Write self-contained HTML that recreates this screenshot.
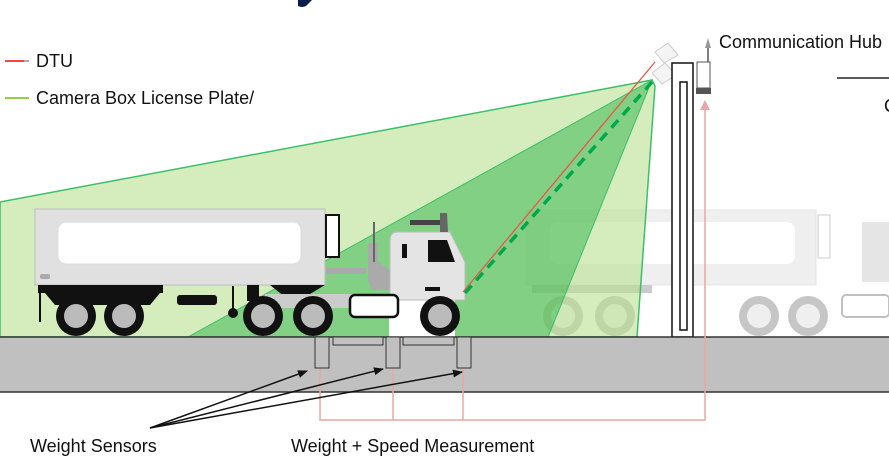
<!DOCTYPE html>
<html><head><style>
body{margin:0;background:#fff;}
svg{display:block;}
text{font-family:"Liberation Sans",sans-serif;fill:#111;}
</style></head><body>
<svg width="889" height="472" viewBox="0 0 889 472" xmlns="http://www.w3.org/2000/svg">
<path d="M298 0 L312 0 L306 6 Q302 8 298 6 Z" fill="#0b1d4a"/>
<!-- legend -->
<line x1="5" y1="61" x2="24" y2="61" stroke="#ff4040" stroke-width="2"/>
<line x1="24" y1="61" x2="29" y2="61" stroke="#aab" stroke-width="2"/>
<text x="36" y="67" font-size="18">DTU</text>
<line x1="5" y1="98" x2="29" y2="98" stroke="#8fd14f" stroke-width="2"/>
<text x="36" y="104" font-size="18">Camera Box License Plate/</text>
<line x1="837" y1="78" x2="889" y2="78" stroke="#222" stroke-width="1.5"/>
<text x="884" y="112" font-size="18">C</text>

<!-- faded right truck -->
<g opacity="0.3">
<rect x="526" y="210" width="290" height="75" fill="#ccc" stroke="#aaa"/>
<rect x="550" y="222" width="245" height="42" rx="8" fill="#fff"/>
<rect x="818" y="215" width="12" height="43" fill="#fff" stroke="#555"/>
<rect x="532" y="285" width="120" height="8" fill="#555"/>
<circle cx="563" cy="316" r="20" fill="#444"/><circle cx="563" cy="316" r="12" fill="#ccc"/>
<circle cx="615" cy="316" r="20" fill="#444"/><circle cx="615" cy="316" r="12" fill="#ccc"/>
<circle cx="759" cy="316" r="20" fill="#444"/><circle cx="759" cy="316" r="12" fill="#ccc"/>
<circle cx="808" cy="316" r="20" fill="#444"/><circle cx="808" cy="316" r="12" fill="#ccc"/>
<rect x="842" y="295" width="47" height="22" rx="4" fill="none" stroke="#333" stroke-width="2"/>
<rect x="862" y="222" width="27" height="60" fill="#aaa"/>
</g>

<!-- camera cones -->
<polygon points="652,80 0,202 0,337 637,337 655,86" fill="#b9e08f" fill-opacity="0.6" stroke="#3cbf6a" stroke-width="1.5" stroke-linejoin="round"/>
<polygon points="652,80 188,337 548,337" fill="#2fb34a" fill-opacity="0.5" stroke="#3cbf6a" stroke-width="1"/>

<!-- truck -->
<rect x="35" y="209" width="290" height="76" fill="#e0e0e0" stroke="#bbb"/>
<rect x="58" y="222" width="243" height="42" rx="8" fill="#fff" stroke="#ddd"/>
<rect x="40" y="274" width="10" height="5" rx="2" fill="#aaa"/>
<rect x="326" y="215" width="13" height="42" fill="#fff" stroke="#111" stroke-width="2"/>
<rect x="38" y="285" width="125" height="8" fill="#111"/>
<path d="M45 293 L160 293 L150 305 L55 305 Z" fill="#111"/>
<line x1="40" y1="285" x2="40" y2="322" stroke="#111" stroke-width="2"/>
<rect x="177" y="295" width="40" height="10" rx="3" fill="#111"/>
<line x1="233" y1="286" x2="233" y2="312" stroke="#111" stroke-width="2"/><circle cx="233" cy="313" r="5" fill="#111"/>
<rect x="247" y="285" width="12" height="16" fill="#111"/>
<path d="M270 285 L325 285 L305 297 L285 297 Z" fill="#111"/>
<rect x="265" y="294" width="125" height="14" fill="#ccc"/>
<rect x="326" y="268" width="40" height="6" fill="#aaa"/>
<path d="M368 243 L378 243 L378 262 L390 270 L390 290 L372 290 L368 280 Z" fill="#aaa"/>
<line x1="374" y1="222" x2="374" y2="262" stroke="#666" stroke-width="2"/>
<rect x="389" y="300" width="66" height="37" fill="#fff"/>
<path d="M390 240 Q390 232 398 232 L450 232 L465 262 L465 300 L390 300 Z" fill="#e4e4e4" stroke="#bbb"/>
<rect x="402" y="244" width="5" height="14" fill="#111"/>
<path d="M428 240 L447 240 L455 262 L428 262 Z" fill="#111"/>
<rect x="425" y="287" width="15" height="4" fill="#111"/>
<rect x="350" y="295" width="48" height="22" rx="5" fill="#fff" stroke="#111" stroke-width="2.5"/>
<path d="M410 225 L440 225 L442 220 L410 220 Z" fill="#444"/>
<path d="M440 213 L447 213 L448 232 L440 232 Z" fill="#666"/>
<circle cx="76" cy="316" r="20" fill="#111"/><circle cx="76" cy="316" r="12" fill="#bbb"/>
<circle cx="124" cy="316" r="20" fill="#111"/><circle cx="124" cy="316" r="12" fill="#bbb"/>
<circle cx="263" cy="316" r="20" fill="#111"/><circle cx="263" cy="316" r="12" fill="#bbb"/>
<circle cx="313" cy="316" r="20" fill="#111"/><circle cx="313" cy="316" r="12" fill="#bbb"/>
<circle cx="440" cy="316" r="20" fill="#111"/><circle cx="440" cy="316" r="12" fill="#bbb"/>

<line x1="655" y1="62" x2="463" y2="292" stroke="#e8564a" stroke-width="1.3"/>
<line x1="652" y1="82" x2="465" y2="293" stroke="#00a84a" stroke-width="3.5" stroke-dasharray="10,7"/>

<!-- cameras -->
<path d="M655 52 L668 43 L678 55 L664 63 Z" fill="#f4f4f4" stroke="#ccc"/>
<path d="M652 73 L665 63 L676 75 L662 84 Z" fill="#f4f4f4" stroke="#ccc"/>

<!-- pole -->
<rect x="672" y="63" width="21" height="274" fill="#fff" stroke="#111" stroke-width="1.5"/>
<rect x="680" y="82" width="7" height="248" fill="#fff" stroke="#111" stroke-width="1.5"/>
<rect x="697" y="62" width="13" height="26" fill="#fff" stroke="#555"/>
<rect x="696" y="88" width="15" height="6" fill="#555"/>
<line x1="708" y1="48" x2="708" y2="62" stroke="#555" stroke-width="1.5"/>
<path d="M705 48 L708 38 L711 48 Z" fill="#999"/>
<text x="719" y="48" font-size="18">Communication Hub</text>

<!-- road -->
<rect x="-2" y="337" width="893" height="55" fill="#c0c0c0" stroke="#333" stroke-width="1.5"/>
<rect x="333" y="337" width="50" height="8" fill="#c0c0c0" stroke="#333"/>
<rect x="403" y="337" width="51" height="8" fill="#c0c0c0" stroke="#333"/>
<rect x="315" y="337" width="14" height="31" fill="#c0c0c0" stroke="#333"/>
<rect x="386" y="337" width="14" height="31" fill="#c0c0c0" stroke="#333"/>
<rect x="457" y="337" width="14" height="31" fill="#c0c0c0" stroke="#333"/>

<g stroke="#eaa6a6" stroke-width="1.5" fill="none">
<polyline points="320,369 320,420 705,420 705,104"/>
<line x1="393" y1="369" x2="393" y2="420"/>
<line x1="463" y1="369" x2="463" y2="420"/>
</g>
<path d="M700 110 L705 100 L710 110 Z" fill="#eaa6a6"/>

<defs><marker id="ah" markerWidth="10" markerHeight="8" refX="9" refY="4" orient="auto" markerUnits="userSpaceOnUse"><path d="M0 0 L10 4 L0 8 Z" fill="#111"/></marker></defs>
<g stroke="#111" stroke-width="1.5" marker-end="url(#ah)">
<line x1="150" y1="428" x2="307" y2="371"/>
<line x1="150" y1="428" x2="383" y2="369"/>
<line x1="150" y1="428" x2="462" y2="372"/>
</g>
<text x="30" y="452" font-size="18">Weight Sensors</text>
<text x="291" y="452" font-size="18">Weight + Speed Measurement</text>
</svg>
</body></html>
